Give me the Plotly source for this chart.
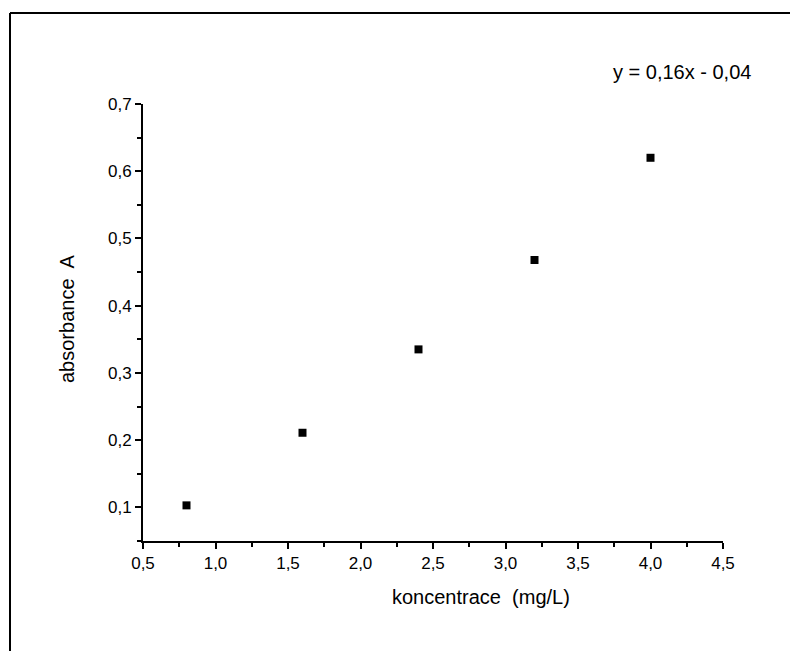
import plotly.graph_objects as go

# Data
koncentrace = [0.8, 1.6, 2.4, 3.2, 4.0]
absorbance = [0.103, 0.211, 0.335, 0.468, 0.620]
x_ticks = [0.5, 1.0, 1.5, 2.0, 2.5, 3.0, 3.5, 4.0, 4.5]
y_ticks = [0.1, 0.2, 0.3, 0.4, 0.5, 0.6, 0.7]
equation = "y = 0,16x - 0,04"
x_title = "koncentrace  (mg/L)"
y_title = "absorbance  A"

FONT = "Liberation Sans, Arial, Helvetica, sans-serif"

fig = go.Figure()
fig.add_trace(go.Scatter(
    x=koncentrace, y=absorbance, mode="markers",
    marker=dict(symbol="square", size=8, color="black", line=dict(width=0)),
    showlegend=False, cliponaxis=False,
))

W, H = 790, 651
ml, mr, mt, mb = 143, 67, 104, 110
pw, ph = W - ml - mr, H - mt - mb

def px(xp):
    return (xp - ml) / pw

def py(yp):
    return (H - mb - yp) / ph

axis_common = dict(
    showline=True, linecolor="black", linewidth=2,
    ticks="outside", ticklen=6, tickwidth=1.5, tickcolor="black",
    showgrid=False, zeroline=False, mirror=False,
    tickfont=dict(family=FONT, size=17, color="black"),
    tickformat=".1f",
)

fig.update_layout(
    width=W, height=H,
    margin=dict(l=ml, r=mr, t=mt, b=mb, pad=0),
    paper_bgcolor="white", plot_bgcolor="white",
    separators=", ",
    font=dict(family=FONT, color="black"),
    xaxis=dict(
        range=[0.5, 4.5], tickvals=x_ticks,
        minor=dict(dtick=0.25, ticks="outside", ticklen=4, tickwidth=1.5, tickcolor="black", showgrid=False),
        **axis_common,
    ),
    yaxis=dict(
        range=[0.05, 0.7], tickvals=y_ticks,
        minor=dict(dtick=0.05, ticks="outside", ticklen=4, tickwidth=1.5, tickcolor="black", showgrid=False),
        **axis_common,
    ),
    annotations=[
        dict(text=equation, xref="paper", yref="paper",
             x=px(682), y=py(72), xanchor="center", yanchor="middle",
             showarrow=False, font=dict(family=FONT, size=20, color="black")),
        dict(text=x_title, xref="paper", yref="paper",
             x=px(481), y=py(597), xanchor="center", yanchor="middle",
             showarrow=False, font=dict(family=FONT, size=20, color="black")),
        dict(text=y_title, xref="paper", yref="paper", textangle=-90,
             x=px(67), y=py(319), xanchor="center", yanchor="middle",
             showarrow=False, font=dict(family=FONT, size=20, color="black")),
    ],
    shapes=[
        dict(type="line", xref="paper", yref="paper", x0=px(10), x1=px(800), y0=py(13), y1=py(13),
             line=dict(color="black", width=2)),
        dict(type="line", xref="paper", yref="paper", x0=px(10), x1=px(10), y0=py(13), y1=py(660),
             line=dict(color="black", width=2)),
    ],
)

fig.write_html("out.html")
